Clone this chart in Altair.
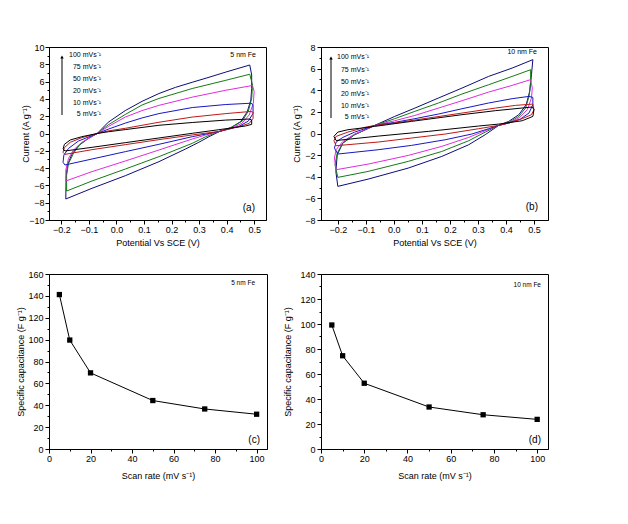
import altair as alt
import pandas as pd

FONT = "Liberation Sans"

RATES = ["100", "75", "50", "20", "10", "5"]
RATE_COLORS = ["#0c0c7a", "#157a15", "#e02ce0", "#1717c4", "#c01818", "#000000"]
LEGEND_TEXT = ["100 mVs⁻¹", "75 mVs⁻¹", "50 mVs⁻¹", "20 mVs⁻¹", "10 mVs⁻¹", "5 mVs⁻¹"]

# ---- panel (a): 5 nm Fe, CV loops (potential V, current A/g) ----
A100 = [(-0.184, -7.57), (-0.183, -5.18), (-0.178, -3.64), (-0.162, -2.41), (-0.138, -1.41),
        (-0.102, -0.56), (-0.07, 0.0), (-0.03, 1.3), (0.032, 2.65), (0.093, 3.72), (0.154, 4.62),
        (0.214, 5.33), (0.275, 5.92), (0.336, 6.50), (0.397, 7.10), (0.484, 7.92), (0.491, 6.76),
        (0.491, 5.22), (0.488, 3.87), (0.475, 2.52), (0.451, 1.37), (0.415, 0.67), (0.375, 0.25),
        (0.336, -0.37), (0.299, -1.02), (0.251, -1.79), (0.154, -3.26), (0.032, -4.88),
        (-0.089, -6.34), (-0.184, -7.57)]
A75 = [(-0.181, -6.65), (-0.181, -4.80), (-0.174, -3.45), (-0.156, -2.29), (-0.132, -1.25),
       (-0.102, -0.56), (-0.07, 0.0), (-0.03, 1.0), (0.032, 2.2), (0.093, 3.3), (0.154, 4.05),
       (0.275, 5.2), (0.397, 6.15), (0.484, 6.85), (0.494, 5.61), (0.491, 4.06), (0.479, 2.60),
       (0.457, 1.44), (0.415, 0.67), (0.375, 0.25), (0.324, -0.37), (0.275, -1.14), (0.154, -2.68),
       (0.032, -4.11), (-0.089, -5.49), (-0.181, -6.65)]
A50 = [(-0.184, -5.49), (-0.184, -4.22), (-0.174, -2.87), (-0.156, -1.91), (-0.126, -1.02),
       (-0.07, 0.0), (-0.03, 0.8), (0.032, 1.9), (0.093, 2.65), (0.154, 3.25), (0.275, 4.2),
       (0.397, 5.0), (0.494, 5.55), (0.500, 4.84), (0.497, 3.49), (0.482, 2.14), (0.455, 1.17),
       (0.415, 0.60), (0.375, 0.25), (0.324, -0.17), (0.275, -0.64), (0.154, -1.91), (0.032, -3.18),
       (-0.089, -4.41), (-0.184, -5.49)]
A20 = [(-0.187, -3.64), (-0.194, -3.33), (-0.191, -2.49), (-0.174, -1.72), (-0.138, -0.87),
       (-0.07, 0.0), (-0.03, 0.5), (0.032, 1.2), (0.093, 1.8), (0.154, 2.3), (0.275, 3.0),
       (0.397, 3.35), (0.488, 3.5), (0.496, 3.35), (0.496, 2.33), (0.479, 1.44), (0.445, 0.83),
       (0.375, 0.25), (0.275, -0.37), (0.154, -1.25), (0.032, -2.10), (-0.089, -2.95), (-0.187, -3.64)]
A10 = [(-0.187, -2.41), (-0.194, -2.18), (-0.189, -1.64), (-0.168, -1.02), (-0.126, -0.48),
       (-0.07, 0.0), (-0.03, 0.3), (0.032, 0.6), (0.154, 1.3), (0.275, 1.9), (0.397, 2.3),
       (0.488, 2.55), (0.496, 2.45), (0.496, 1.75), (0.482, 1.17), (0.445, 0.79), (0.375, 0.25),
       (0.275, -0.17), (0.154, -0.71), (0.032, -1.29), (-0.089, -1.87), (-0.187, -2.41)]
A5 = [(-0.187, -2.02), (-0.194, -1.79), (-0.189, -1.25), (-0.168, -0.75), (-0.126, -0.37),
      (-0.07, 0.0), (-0.03, 0.2), (0.032, 0.45), (0.154, 0.95), (0.275, 1.27), (0.397, 1.55),
      (0.482, 1.67), (0.491, 1.56), (0.491, 1.06), (0.469, 0.87), (0.372, 0.44), (0.275, 0.02),
      (0.154, -0.52), (0.032, -1.06), (-0.089, -1.60), (-0.187, -2.02)]

# ---- panel (b): 10 nm Fe ----
B100 = [(-0.200, -4.89), (-0.207, -3.51), (-0.202, -1.96), (-0.182, -0.88), (-0.140, -0.11),
        (-0.068, 0.75), (0.003, 1.58), (0.075, 2.35), (0.159, 3.28), (0.243, 4.20), (0.338, 5.28),
        (0.422, 6.05), (0.496, 6.83), (0.491, 5.44), (0.485, 3.90), (0.472, 2.66), (0.446, 1.74),
        (0.410, 1.12), (0.374, 0.75), (0.326, -0.11), (0.267, -1.04), (0.171, -2.12), (0.051, -3.20),
        (-0.092, -4.22), (-0.200, -4.89)]
B75 = [(-0.200, -4.06), (-0.210, -2.89), (-0.202, -1.81), (-0.182, -0.88), (-0.140, -0.11),
       (-0.068, 0.75), (0.003, 1.37), (0.075, 2.05), (0.159, 2.82), (0.243, 3.65), (0.338, 4.51),
       (0.422, 5.28), (0.488, 5.90), (0.488, 4.82), (0.482, 3.43), (0.470, 2.35), (0.446, 1.58),
       (0.410, 1.03), (0.374, 0.75), (0.326, 0.13), (0.267, -0.67), (0.171, -1.66), (0.051, -2.58),
       (-0.092, -3.51), (-0.200, -4.06)]
B50 = [(-0.206, -3.35), (-0.212, -2.27), (-0.206, -1.50), (-0.182, -0.73), (-0.140, -0.05),
       (-0.068, 0.75), (0.003, 1.18), (0.075, 1.67), (0.159, 2.35), (0.243, 3.03), (0.338, 3.83),
       (0.422, 4.45), (0.488, 4.98), (0.494, 4.20), (0.491, 3.28), (0.476, 2.20), (0.446, 1.43),
       (0.410, 0.97), (0.374, 0.75), (0.326, 0.26), (0.267, -0.36), (0.171, -1.19), (0.051, -2.03),
       (-0.092, -2.83), (-0.206, -3.35)]
B20 = [(-0.200, -1.90), (-0.212, -1.35), (-0.206, -0.79), (-0.182, -0.36), (-0.140, 0.13),
       (-0.068, 0.75), (0.003, 1.03), (0.075, 1.37), (0.159, 1.80), (0.243, 2.29), (0.338, 2.82),
       (0.422, 3.22), (0.482, 3.43), (0.496, 3.34), (0.496, 2.66), (0.482, 1.89), (0.452, 1.34),
       (0.410, 0.97), (0.374, 0.75), (0.338, 0.44), (0.278, -0.05), (0.183, -0.58), (0.063, -1.10),
       (-0.056, -1.50), (-0.200, -1.90)]
B10 = [(-0.206, -1.13), (-0.214, -0.67), (-0.206, -0.27), (-0.164, 0.13), (-0.104, 0.565),
       (-0.068, 0.75), (0.003, 0.97), (0.123, 1.43), (0.243, 1.89), (0.362, 2.35), (0.434, 2.60),
       (0.496, 2.72), (0.500, 2.20), (0.491, 1.74), (0.458, 1.37), (0.410, 0.97), (0.374, 0.75),
       (0.302, 0.44), (0.183, -0.05), (0.063, -0.42), (-0.056, -0.79), (-0.206, -1.13)]
B5 = [(-0.206, -0.65), (-0.214, -0.27), (-0.200, 0.13), (-0.164, 0.35), (-0.116, 0.50),
      (-0.068, 0.66), (0.063, 1.12), (0.243, 1.74), (0.362, 2.11), (0.494, 2.45), (0.500, 2.20),
      (0.496, 1.58), (0.458, 1.18), (0.374, 0.87), (0.302, 0.69), (0.123, 0.195), (-0.056, -0.24),
      (-0.206, -0.65)]

# ---- panels (c), (d): specific capacitance vs scan rate ----
SCAN_RATE = [5, 10, 20, 50, 75, 100]
CAP_5NM = [141.2, 99.6, 69.6, 44.3, 36.6, 31.8]
CAP_10NM = [99.2, 74.6, 52.6, 33.6, 27.4, 23.7]


def loops(curves):
    rows = []
    for rate, pts in zip(RATES, curves):
        for i, (x, y) in enumerate(pts):
            rows.append({"rate": rate, "i": i, "x": x, "y": y})
    return pd.DataFrame(rows)


def axis(title, values, major, fmt, extent, tpad, tick=4, lpad=1):
    return alt.Axis(
        title=title, values=values, format=fmt,
        labelExpr=f"({major}) ? datum.label : ''",
        tickSize={"condition": {"test": f"!({major})", "value": 2}, "value": tick},
        minExtent=extent, maxExtent=extent, titlePadding=tpad, labelPadding=lpad,
        grid=False, labelFlush=False, labelOverlap=False,
        domainColor="black", tickColor="black", labelColor="black", titleColor="black",
        labelFont=FONT, titleFont=FONT, labelFontSize=9, titleFontSize=9,
        titleFontWeight="normal", domainWidth=1, tickWidth=1,
    )


ONE = pd.DataFrame({"_": [0]})


def txt(s, x, y, size, align="right"):
    return alt.Chart(ONE).mark_text(
        text=s, fontSize=size, font=FONT, align=align, baseline="middle", color="black"
    ).encode(x=alt.value(x), y=alt.value(y))


def legend(xr, ys, xa, y0, y1):
    parts = [txt(t, xr, y, 7) for t, y in zip(LEGEND_TEXT, ys)]
    parts.append(alt.Chart(ONE).mark_rule(color="black", strokeWidth=1).encode(
        x=alt.value(xa), y=alt.value(y0), y2=alt.value(y1)))
    parts.append(alt.Chart(ONE).mark_point(shape="triangle-up", filled=True, color="black",
                                           size=12, opacity=1).encode(
        x=alt.value(xa), y=alt.value(y0)))
    return parts


X_CV_VALUES = [-0.2, -0.15, -0.1, -0.05, 0.0, 0.05, 0.1, 0.15, 0.2, 0.25, 0.3, 0.35, 0.4, 0.45, 0.5]
X_CV_MAJOR = "abs(round(datum.value*20)) % 2 == 0"
color_enc = alt.Color("rate:N", scale=alt.Scale(domain=RATES, range=RATE_COLORS), legend=None)

# panel a
cv_a = alt.Chart(loops([A100, A75, A50, A20, A10, A5])).mark_line(strokeWidth=1, clip=True).encode(
    x=alt.X("x:Q", scale=alt.Scale(domain=[-0.245, 0.543], nice=False, zero=False),
            axis=axis("Potential Vs SCE (V)", X_CV_VALUES, X_CV_MAJOR, ".1f", 14, 4)),
    y=alt.Y("y:Q", scale=alt.Scale(domain=[-10, 10], nice=False),
            axis=axis("Current (A g⁻¹)", list(range(-10, 11)), "datum.value % 2 == 0", "d", 17, 2)),
    color=color_enc, order="i:Q",
)
panel_a = alt.layer(
    cv_a, *legend(52, [8, 20, 32, 44, 56, 67], 13, 10, 68),
    txt("5 nm Fe", 207, 8, 7), txt("(a)", 206, 161, 10),
).properties(width=217, height=173)

# panel b
cv_b = alt.Chart(loops([B100, B75, B50, B20, B10, B5])).mark_line(strokeWidth=1, clip=True).encode(
    x=alt.X("x:Q", scale=alt.Scale(domain=[-0.26, 0.55], nice=False, zero=False),
            axis=axis("Potential Vs SCE (V)", X_CV_VALUES, X_CV_MAJOR, ".1f", 14, 4)),
    y=alt.Y("y:Q", scale=alt.Scale(domain=[-8, 8], nice=False),
            axis=axis("Current (A g⁻¹)", list(range(-8, 9)), "datum.value % 2 == 0", "d", 14, 6, lpad=2)),
    color=color_enc, order="i:Q",
)
panel_b = alt.layer(
    cv_b, *legend(48, [10, 23, 35, 47, 59, 70], 10, 11, 71),
    txt("10 nm Fe", 216, 5, 7), txt("(b)", 217, 160, 10),
).properties(width=227, height=173)


def cap_panel(cap, ymax, label, tag, width, ext, tpad, lab_x, tag_x, lab_y):
    df = pd.DataFrame({"rate": SCAN_RATE, "cap": cap})
    enc = dict(
        x=alt.X("rate:Q", scale=alt.Scale(domain=[0, 105], nice=False),
                axis=axis("Scan rate (mV s⁻¹)", list(range(0, 101, 10)), "datum.value % 20 == 0",
                          "d", 14, 8.5)),
        y=alt.Y("cap:Q", scale=alt.Scale(domain=[0, ymax], nice=False),
                axis=axis("Specific capacitance (F g⁻¹)", list(range(0, ymax + 1, 10)),
                          "datum.value % 20 == 0", "d", ext, tpad, lpad=2)),
    )
    line = alt.Chart(df).mark_line(color="black", strokeWidth=1).encode(**enc)
    pts = alt.Chart(df).mark_square(color="black", size=28, opacity=1).encode(**enc)
    return alt.layer(line, pts, txt(label, lab_x, lab_y, 6.5), txt(tag, tag_x, 166, 10)).properties(
        width=width, height=175)


panel_c = cap_panel(CAP_5NM, 160, "5 nm Fe", "(c)", 218, 19, 5, 206, 211, 9)
panel_d = cap_panel(CAP_10NM, 140, "10 nm Fe", "(d)", 227, 22, 7, 220, 220, 11)

row1 = alt.hconcat(panel_a, panel_b, spacing=55, bounds="flush")
row2 = alt.hconcat(panel_c, panel_d, spacing=54, bounds="flush")

chart = alt.vconcat(row1, row2, spacing=227, bounds="flush").properties(
    padding={"left": 7, "top": 34, "right": 5, "bottom": 5},
    background="white",
).configure_view(stroke="black", strokeWidth=1)

chart.save("out.html", embed_options={"renderer": "svg", "actions": False})
